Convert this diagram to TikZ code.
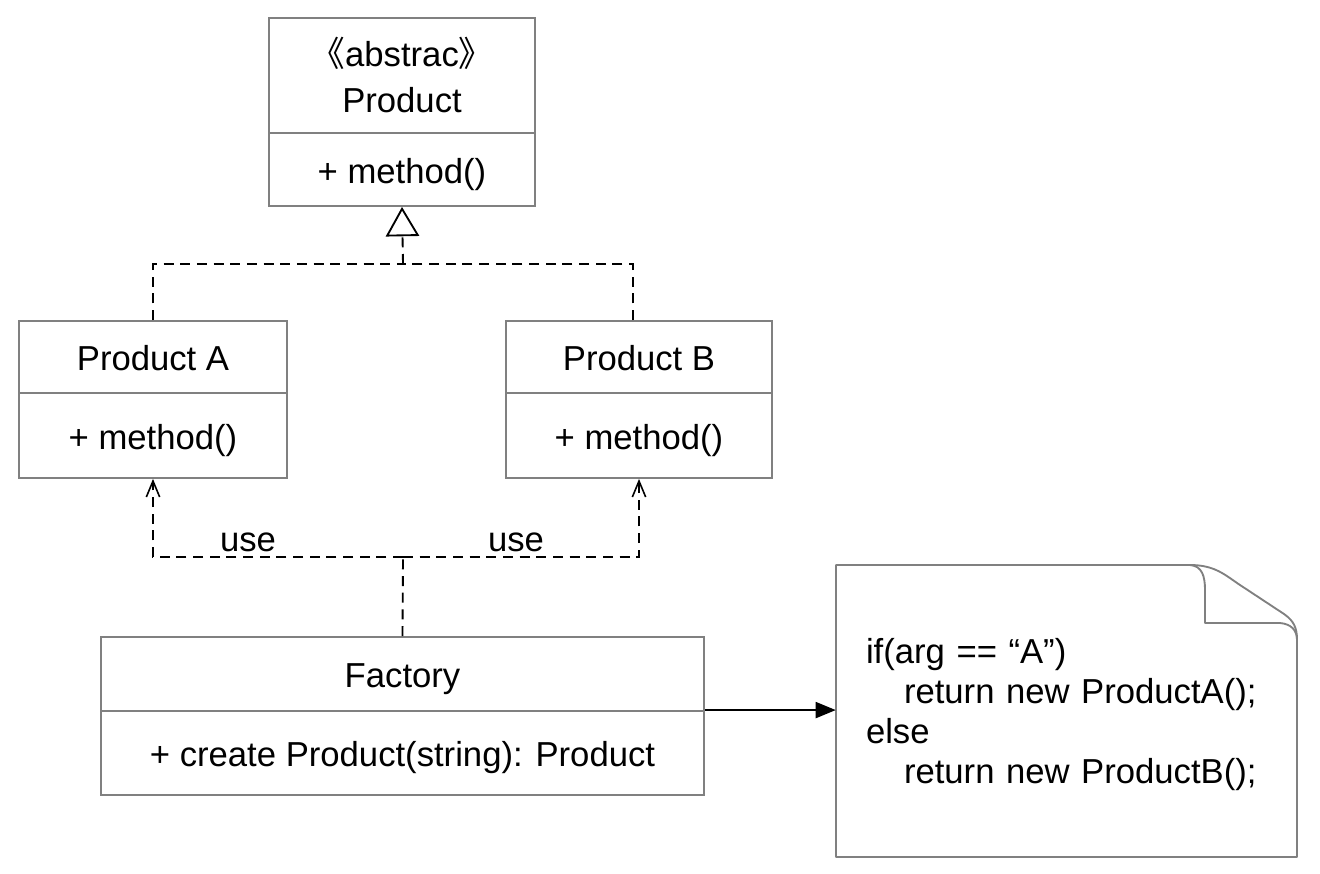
\documentclass[tikz,border=0pt]{standalone}
\usepackage{fontspec}
\setmainfont{Liberation Sans}
\newfontfamily\cjkfont{Noto Sans CJK SC}
\usetikzlibrary{arrows.meta,calc}
\definecolor{boxgray}{HTML}{808080}
\def\px{0.75pt}
\begin{document}
\begin{tikzpicture}[x=0.75pt,y=-0.75pt,
  cls/.style={draw=boxgray, line width=1.4pt, inner sep=0pt, align=center,
    font=\fontsize{26}{34.5}\selectfont},
  one/.style={text height=19.5pt, text depth=0pt},
  meth/.style={text height=20.5pt, text depth=0pt},
  dep/.style={draw=black, line width=1.4pt, dash pattern=on 7.5pt off 5pt},
  lbl/.style={font=\fontsize{26}{34}\selectfont, inner sep=0pt},
  usetip/.style={-{Straight Barb[length=12pt,width=10pt,line width=1.2pt]}},
  inhtip/.style={-{Triangle[open,length=22pt,width=25pt,line width=1.4pt]}},
  calltip/.style={-{Triangle[length=15pt,width=12pt]}},
  notebox/.style={inner xsep=22.5pt, inner ysep=0pt, text width=300.75pt,
    minimum height=219pt, align=left, font=\fontsize{26}{30}\selectfont},
  noteline/.style={draw=boxgray, line width=1.4pt, line join=round}
]
\useasboundingbox (0,0) rectangle (1320,874);

% abstract Product
\node[cls, minimum width=266*\px, minimum height=115*\px] (absT) at (402,75.5)
  {{\cjkfont 《}abstrac{\cjkfont 》}\\Product};
\node[cls, meth, minimum width=266*\px, minimum height=73*\px] (absB) at (402,169.5) {+ method()};

% Product A
\node[cls, one, minimum width=268*\px, minimum height=72*\px] (pAT) at (153,357) {Product A};
\node[cls, meth, minimum width=268*\px, minimum height=85*\px] (pAB) at (153,435.5) {+ method()};

% Product B
\node[cls, one, minimum width=266*\px, minimum height=72*\px] (pBT) at (639,357) {Product B};
\node[cls, meth, minimum width=266*\px, minimum height=85*\px] (pBB) at (639,435.5) {+ method()};

% Factory
\node[cls, one, minimum width=603*\px, minimum height=74*\px] (facT) at (402.5,674) {Factory};
\node[cls, meth, minimum width=603*\px, minimum height=84*\px] (facB) at (402.5,753) {+ create Product(string): Product};

% note
\draw[noteline] (836,565) -- (1190,565)
  .. controls (1215,565) and (1225,575) .. (1240,585) -- (1284,614)
  .. controls (1294,621) and (1297,628) .. (1297,640)
  -- (1297,857) -- (836,857) -- cycle;
\draw[noteline] (1190,565) .. controls (1202,566) and (1205,576) .. (1205,590)
  -- (1205,623) -- (1280,623) .. controls (1291,624) and (1297,630) .. (1297,640);
\node[notebox] (note) at (1066.5,715)
  {if(arg == “A”)\\\hspace*{28.5pt}return new ProductA();\\else\\\hspace*{28.5pt}return new ProductB();};

% inheritance
\coordinate (inhJ) at (403,264);
\draw[dep] (pAT.north) |- (inhJ);
\draw[dep] ([xshift=-4.5pt]pBT.north) |- (inhJ);
\draw[dep, inhtip] (inhJ) -- (absB.south);

% use
\coordinate (useJ) at (403,557);
\draw[dep] (facT.north) -- (useJ);
\draw[dep, usetip] (useJ) -| (pAB.south);
\draw[dep, usetip] (useJ) -| (pBB.south);
\node[lbl] (use1) at (248,542) {use};
\node[lbl] (use2) at (516,542) {use};

% factory -> note
\draw[line width=1.4pt, calltip] (facB.north east) -- (note.west |- facB.north east);
\end{tikzpicture}
\end{document}
